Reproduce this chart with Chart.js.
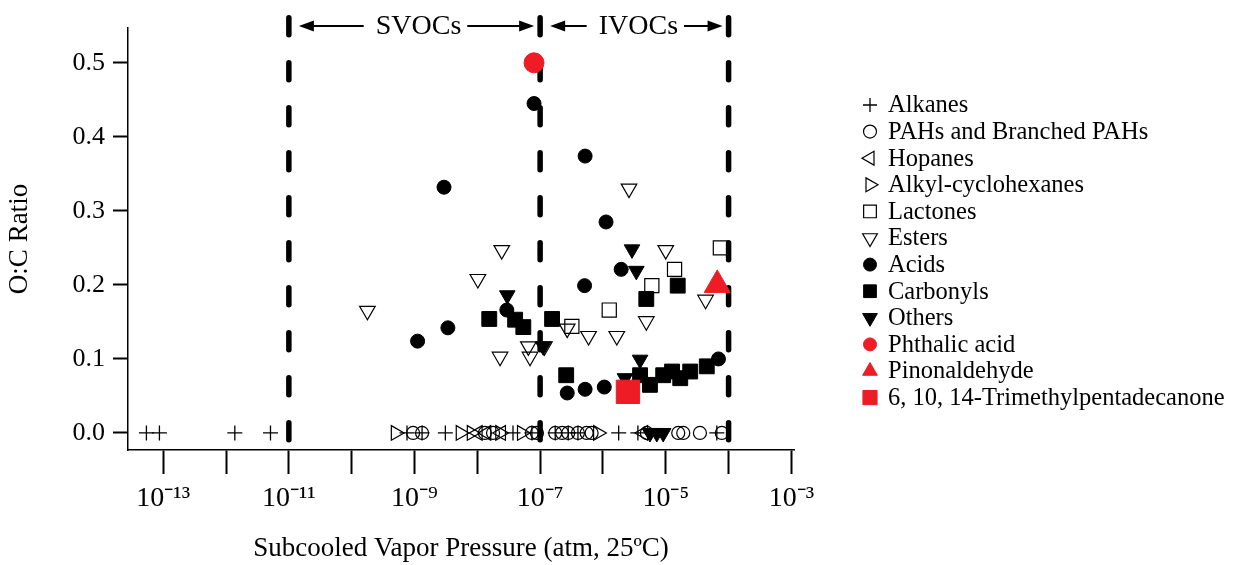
<!DOCTYPE html>
<html><head><meta charset="utf-8">
<script src="https://cdn.jsdelivr.net/npm/chart.js@4.4.1/dist/chart.umd.min.js"></script>
<style>html,body{margin:0;padding:0;background:#fff}#wrap{width:1244px;height:565px;position:relative}</style>
</head><body><div id="wrap"><canvas id="c" width="1244" height="565"></canvas></div>
<script>
// ---- data (x: subcooled vapor pressure, atm; y: O:C ratio) ----
const alkanesX = [5.4e-14, 8.7e-14, 1.38e-12, 5.1e-12, 7.6e-10, 3.1e-9, 3.7e-8, 7.4e-8, 1.74e-7, 4.0e-7, 1.78e-6, 3.6e-6, 6.5e-5, 1.32e-9, 2.8e-7];
const alkanesY = [0, 0, 0, 0, 0, 0, 0, 0, 0, 0, 0, 0, 0, 0, 0];
const pahsX = [9.5e-10, 1.32e-9, 1.32e-8, 1.78e-8, 7.4e-8, 8.9e-8, 1.74e-7, 2.24e-7, 2.8e-7, 4.0e-7, 5.5e-7, 6.6e-7, 5.0e-6, 1.58e-5, 1.9e-5, 3.5e-5, 7.8e-5];
const pahsY = [0, 0, 0, 0, 0, 0, 0, 0, 0, 0, 0, 0, 0, 0, 0, 0, 0];
const hopanesX = [1.02e-8, 1.4e-8, 2.4e-8, 4.4e-6];
const hopanesY = [0, 0, 0, 0];
const cyclohexX = [5.0e-10, 5.4e-9, 8.1e-9, 2.3e-8, 5.1e-8, 8.3e-7];
const cyclohexY = [0, 0, 0, 0, 0, 0];
const lactonesX = [3.2e-7, 1.26e-6, 6.0e-6, 1.38e-5, 7.4e-5];
const lactonesY = [0.144, 0.166, 0.199, 0.221, 0.250];
const estersX = [1.78e-10, 1.02e-8, 2.45e-8, 2.3e-8, 6.5e-8, 6.9e-8, 1.17e-7, 2.7e-7, 5.9e-7, 1.66e-6, 2.6e-6, 4.9e-6, 1.0e-5, 4.3e-5];
const estersY = [0.165, 0.208, 0.247, 0.103, 0.117, 0.103, 0.117, 0.141, 0.131, 0.131, 0.330, 0.151, 0.247, 0.180];
const acidsX = [8.0e-8, 2.95e-9, 1.12e-9, 3.4e-9, 2.95e-8, 5.1e-7, 5.2e-7, 1.12e-6, 1.95e-6, 2.7e-7, 5.2e-7, 1.05e-6, 6.9e-5];
const acidsY = [0.445, 0.332, 0.124, 0.142, 0.166, 0.199, 0.374, 0.285, 0.221, 0.054, 0.059, 0.062, 0.100];
const carbonylsX = [1.55e-8, 4.0e-8, 5.4e-8, 1.55e-7, 2.6e-7, 4.9e-6, 1.55e-5, 3.9e-6, 5.6e-6, 9.1e-6, 1.26e-5, 1.7e-5, 2.45e-5, 4.5e-5];
const carbonylsY = [0.154, 0.153, 0.143, 0.154, 0.078, 0.181, 0.199, 0.078, 0.065, 0.078, 0.083, 0.074, 0.083, 0.090];
const othersX = [3.0e-8, 1.12e-7, 2.9e-6, 3.4e-6, 3.9e-6, 2.24e-6, 5.6e-6, 7.2e-6, 9.1e-6];
const othersY = [0.186, 0.117, 0.248, 0.219, 0.099, 0.074, 0, 0, 0];
const phthalicX = [8.0e-8];
const phthalicY = [0.5];
const pinonX = [6.6e-5];
const pinonY = [0.2];
const tmpdX = [2.5e-6];
const tmpdY = [0.0556];

const seriesLabels = ['Alkanes', 'PAHs and Branched PAHs', 'Hopanes', 'Alkyl-cyclohexanes', 'Lactones', 'Esters', 'Acids', 'Carbonyls', 'Others', 'Phthalic acid', 'Pinonaldehyde', '6, 10, 14-Trimethylpentadecanone'];
const xTickValues = [1e-13, 1e-12, 1e-11, 1e-10, 1e-9, 1e-8, 1e-7, 1e-6, 1e-5, 1e-4, 1e-3];
const xTickLabels = ['10\u207B\u00B9\u00B3', '', '10\u207B\u00B9\u00B9', '', '10\u207B\u2079', '', '10\u207B\u2077', '', '10\u207B\u2075', '', '10\u207B\u00B3'];
const yTickValues = [0, 0.1, 0.2, 0.3, 0.4, 0.5];
const boundaryX = [1e-11, 1e-7, 1e-4];
const rangeLabels = ['SVOCs', 'IVOCs'];

const FONT = '"Liberation Serif", "Times New Roman", serif';
const RED = '#ee1c25';
const NONE = 'rgba(0,0,0,0)';

function pts(xs, ys) { return xs.map((x, i) => ({x: x, y: ys[i]})); }

const styles = [
  {pointStyle: 'cross', radius: 7.5, rotation: 0, fill: NONE, stroke: '#000', bw: 1.3, lr: 7},
  {pointStyle: 'circle', radius: 6.5, rotation: 0, fill: NONE, stroke: '#000', bw: 1.2, lr: 6.5},
  {pointStyle: 'triangle', radius: 8.5, rotation: 270, fill: NONE, stroke: '#000', bw: 1.2, lr: 8},
  {pointStyle: 'triangle', radius: 8.5, rotation: 90, fill: NONE, stroke: '#000', bw: 1.2, lr: 8},
  {pointStyle: 'rect', radius: 10, rotation: 0, fill: NONE, stroke: '#000', bw: 1.2, lr: 9},
  {pointStyle: 'triangle', radius: 9, rotation: 180, fill: NONE, stroke: '#000', bw: 1.2, lr: 8.5},
  {pointStyle: 'circle', radius: 7, rotation: 0, fill: '#000', stroke: '#000', bw: 1, lr: 6.5},
  {pointStyle: 'rect', radius: 10.5, rotation: 0, fill: '#000', stroke: '#000', bw: 1, lr: 9},
  {pointStyle: 'triangle', radius: 9, rotation: 180, fill: '#000', stroke: '#000', bw: 1, lr: 8.5},
  {pointStyle: 'circle', radius: 10, rotation: 0, fill: RED, stroke: RED, bw: 1, lr: 6.5},
  {pointStyle: 'triangle', radius: 15, rotation: 0, fill: RED, stroke: RED, bw: 1, lr: 8.5},
  {pointStyle: 'rect', radius: 16.5, rotation: 0, fill: RED, stroke: RED, bw: 1, lr: 10}
];
const seriesData = [
  pts(alkanesX, alkanesY), pts(pahsX, pahsY), pts(hopanesX, hopanesY), pts(cyclohexX, cyclohexY),
  pts(lactonesX, lactonesY), pts(estersX, estersY), pts(acidsX, acidsY), pts(carbonylsX, carbonylsY),
  pts(othersX, othersY), pts(phthalicX, phthalicY), pts(pinonX, pinonY), pts(tmpdX, tmpdY)
];

const datasets = seriesLabels.map((lab, i) => ({
  type: 'scatter',
  label: lab,
  data: seriesData[i],
  pointStyle: styles[i].pointStyle,
  pointRadius: styles[i].radius,
  pointRotation: styles[i].rotation,
  pointBackgroundColor: styles[i].fill,
  pointBorderColor: styles[i].stroke,
  pointBorderWidth: styles[i].bw,
  backgroundColor: styles[i].fill,
  borderColor: styles[i].stroke,
  order: i >= 9 ? 0 : 1,
  clip: false
}));
// dashed boundary lines (SVOC / IVOC limits)
boundaryX.forEach((bx) => {
  datasets.push({
    type: 'line',
    label: '_boundary',
    data: [{x: bx, y: 0.561}, {x: bx, y: -0.016}],
    borderColor: '#000',
    borderWidth: 5.5,
    borderDash: [17, 28],
    borderCapStyle: 'round',
    pointRadius: 0,
    fill: false,
    clip: false,
    order: 5
  });
});

function arrow(ctx, x1, x2, y) {
  const dir = x2 > x1 ? 1 : -1;
  ctx.beginPath();
  ctx.moveTo(x1, y);
  ctx.lineTo(x2 - dir * 10, y);
  ctx.lineWidth = 2;
  ctx.strokeStyle = '#000';
  ctx.stroke();
  ctx.beginPath();
  ctx.moveTo(x2, y);
  ctx.lineTo(x2 - dir * 15, y - 5.5);
  ctx.lineTo(x2 - dir * 15, y + 5.5);
  ctx.closePath();
  ctx.fillStyle = '#000';
  ctx.fill();
}

const rangePlugin = {
  id: 'ranges',
  afterDraw(chart) {
    const ctx = chart.ctx;
    const xs = chart.scales.x;
    const px = boundaryX.map(v => xs.getPixelForValue(v));
    const y = 26;
    ctx.save();
    ctx.font = '28px ' + FONT;
    ctx.textBaseline = 'middle';
    ctx.textAlign = 'center';
    for (let k = 0; k < 2; k++) {
      const a = px[k], b = px[k + 1];
      const cx = (a + b) / 2 + 4;
      const w = ctx.measureText(rangeLabels[k]).width;
      ctx.fillStyle = '#000';
      ctx.fillText(rangeLabels[k], cx, y + 1);
      arrow(ctx, cx - w / 2 - 12, a + 10, y);
      arrow(ctx, cx + w / 2 + 6, b - 6, y);
    }
    ctx.restore();
  }
};

const legendPlugin = {
  id: 'sideLegend',
  afterDraw(chart) {
    const ctx = chart.ctx;
    const x0 = 870, tx = 888, y0 = 105, dy = 26.6;
    ctx.save();
    ctx.font = '24.5px ' + FONT;
    ctx.textBaseline = 'middle';
    ctx.textAlign = 'left';
    seriesLabels.forEach((lab, i) => {
      const y = y0 + i * dy;
      const s = styles[i];
      ctx.fillStyle = s.fill;
      ctx.strokeStyle = s.stroke;
      ctx.lineWidth = s.bw;
      Chart.helpers.drawPoint(ctx, {pointStyle: s.pointStyle, radius: s.lr, rotation: s.rotation, borderWidth: s.bw}, x0, y);
      ctx.fillStyle = '#000';
      ctx.fillText(lab, tx, y + 1);
    });
    ctx.restore();
  }
};

new Chart(document.getElementById('c'), {
  type: 'scatter',
  data: {datasets: datasets},
  options: {
    responsive: false,
    animation: false,
    layout: {padding: {top: 28, right: 450, bottom: 0, left: 0}},
    plugins: {legend: {display: false}, tooltip: {enabled: false}},
    scales: {
      x: {
        type: 'logarithmic',
        position: 'bottom',
        min: 2.75e-14,
        max: 1.1e-3,
        afterBuildTicks: (s) => { s.ticks = xTickValues.map(v => ({value: v})); },
        afterFit: (s) => { s.height = 115; },
        ticks: {
          autoSkip: false, maxRotation: 0, minRotation: 0, color: '#000', padding: 8,
          font: {family: FONT, size: 28},
          callback: (v, i) => xTickLabels[i]
        },
        grid: {drawOnChartArea: false, drawTicks: true, tickLength: 24, tickWidth: 2, tickColor: '#000'},
        border: {display: true, color: '#000', width: 1.5},
        title: {display: true, text: 'Subcooled Vapor Pressure (atm, 25ºC)', color: '#000', font: {family: FONT, size: 27}, padding: {top: 0, bottom: 0}}
      },
      y: {
        type: 'linear',
        min: -0.023,
        max: 0.547,
        afterBuildTicks: (s) => { s.ticks = yTickValues.map(v => ({value: v})); },
        afterFit: (s) => { s.width = 128; },
        ticks: {
          color: '#000', padding: 8, font: {family: FONT, size: 26},
          callback: (v) => Number(v).toFixed(1)
        },
        grid: {drawOnChartArea: false, drawTicks: true, tickLength: 15, tickWidth: 2, tickColor: '#000'},
        border: {display: true, color: '#000', width: 1.5},
        title: {display: true, text: 'O:C Ratio', color: '#000', font: {family: FONT, size: 27}, padding: {top: 4, bottom: 0}}
      }
    }
  },
  plugins: [rangePlugin, legendPlugin]
});
</script>
</body></html>
